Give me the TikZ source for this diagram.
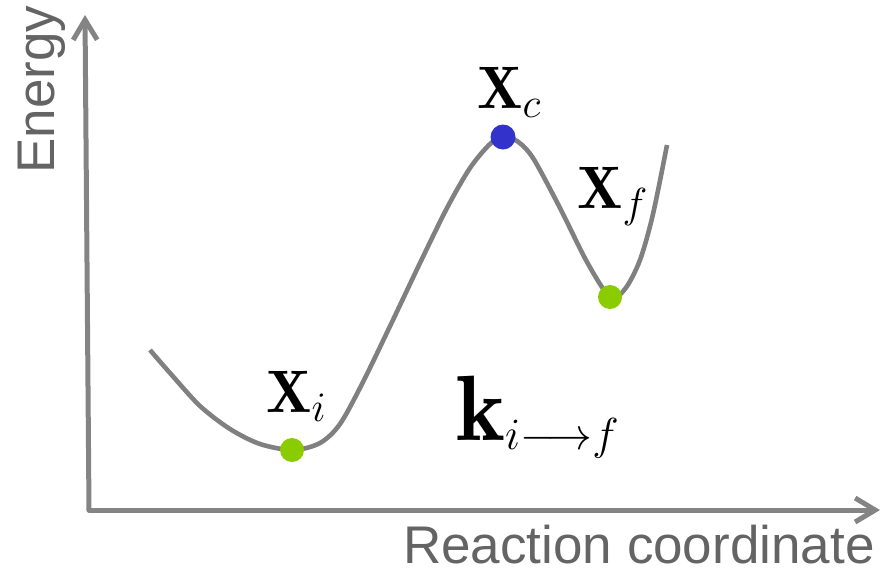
\RequirePackage{fix-cm}
\documentclass[tikz,border=0pt]{standalone}
\usepackage{amsmath}
\usepackage{graphicx}
\usepackage{fontspec}
\usepackage{tikz}
\usetikzlibrary{arrows.meta,positioning}
\usepackage{xcolor}
\newfontfamily\axisfont{Liberation Sans}
\definecolor{axiscol}{RGB}{132,132,132}
\definecolor{curvecol}{RGB}{128,128,128}
\definecolor{textcol}{RGB}{100,100,100}
\definecolor{mincol}{RGB}{138,204,0}
\definecolor{saddlecol}{RGB}{51,51,204}
\tikzset{
  % axis with open barb head
  axisline/.style={line width=5pt, draw=axiscol, line cap=round,
                   -{Straight Barb[length=20pt,width=24pt,line width=5pt]}},
  % axis title
  axislabel/.style={font=\axisfont\fontsize{53}{58}\selectfont, text=textcol, inner sep=0pt},
  % energy profile
  curveline/.style={line width=4.6pt, draw=curvecol},
  % stationary points
  mindot/.style={circle, fill=mincol, minimum size=24pt, inner sep=0pt},
  saddledot/.style={circle, fill=saddlecol, minimum size=25pt, inner sep=0pt},
  % state labels
  statelabel/.style={font=\fontsize{60}{66}\selectfont, inner sep=1pt},
}

\begin{document}
\begin{tikzpicture}[x=1pt,y=-1pt]
  \useasboundingbox (0,0) rectangle (886,584);
  % axes
  \coordinate (origin) at (89,510);
  \coordinate (ytop) at (85,15);
  \coordinate (xend) at (880,510);
  \draw[axisline] (origin) -- (ytop);
  \draw[axisline] (origin) -- (xend);
  \node[axislabel, rotate=90, anchor=base west] (elabel) at (54,174) {Energy};
  \node[axislabel, anchor=base west] (rclabel) at (403,563) {Reaction coordinate};
  % energy profile
  \draw[curveline] plot[smooth, tension=0.5] coordinates {
    (150,350) (170,373) (200,406) (230,429) (260,444) (293,450) (320,443)
    (340,424) (363,382) (392,322) (420,263) (447,208) (470,168) (490,144)
    (503,137) (517,141) (533,158) (560,208) (587,262) (610,297) (625,289)
    (640,260) (653,214) (667,145)};
  % labels
  \node[statelabel, fill=white, inner sep=0pt, anchor=base west] (lxi) at (266,412) {$\mathbf{X}_i$};
  \node[statelabel, anchor=base west] (lxc) at (476,108) {$\mathbf{X}_c$};
  \node[statelabel, anchor=base west] (lxf) at (576,208) {$\mathbf{X}_f$};
  \node[statelabel, font=\fontsize{64}{70}\selectfont, anchor=base west] (lk) at (455,440)
    {$\scalebox{1.45}{$\mathbf{k}$}_{i\longrightarrow f}$};
  % stationary points
  \node[mindot] (xi) at (292,450) {};
  \node[saddledot] (xc) at (503,137) {};
  \node[mindot] (xf) at (610,297) {};
\end{tikzpicture}
\end{document}
